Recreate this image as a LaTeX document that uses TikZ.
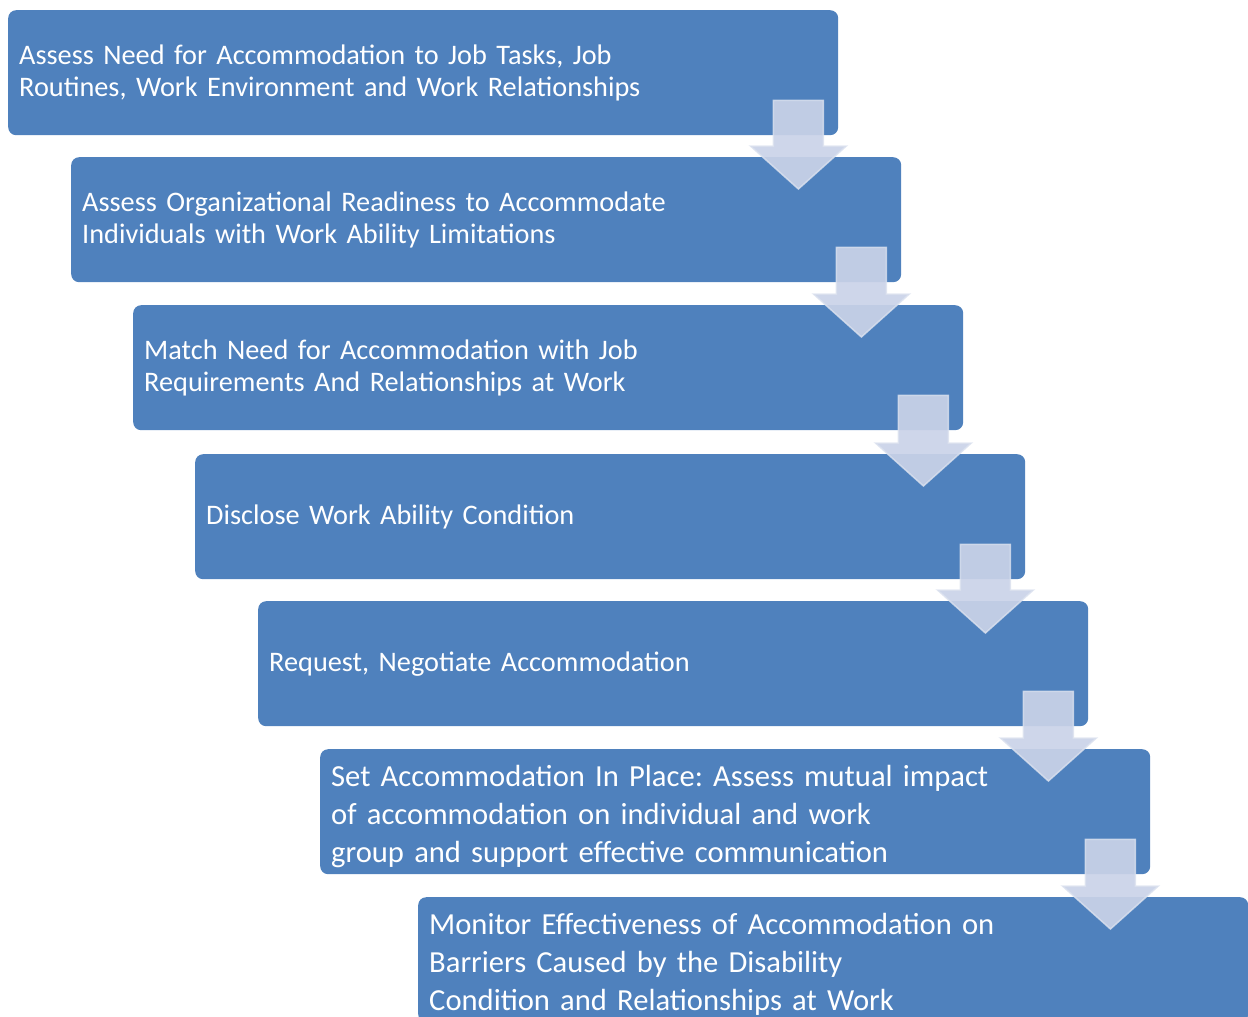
\documentclass[tikz,border=0pt]{standalone}
\usepackage{fontspec}
\setmainfont{Carlito}
\frenchspacing
\usetikzlibrary{calc}
\definecolor{boxblue}{HTML}{4F81BD}
\definecolor{arrowfill}{HTML}{CAD3E8}
\definecolor{arrowedge}{HTML}{DCE2EF}
\tikzset{
  stepbox/.style={fill=boxblue, rounded corners=8pt, anchor=north west,
    minimum width=830pt, minimum height=125pt, inner xsep=11pt, inner ysep=0pt,
    text width=808pt, align=left, text=white},
  smalltext/.style={font=\fontsize{28.3}{32}\selectfont},
  bigtext/.style={font=\fontsize{30.6}{38}\selectfont},
  flowarrow/.style={fill=arrowfill, fill opacity=0.92, draw=arrowedge, draw opacity=0.8, line width=1.5pt, line join=miter}
}
\newcommand\toplift{\rule{0pt}{31pt}}
\begin{document}
\begin{tikzpicture}[x=1pt,y=-1pt]
\useasboundingbox (0,0) rectangle (1248,1017);
\begin{scope}
\clip (0,0) rectangle (1248,1017);
\node[stepbox, smalltext] (b1) at (8,10) {Assess Need for Accommodation to Job Tasks, Job\\Routines, Work Environment and Work Relationships};
\node[stepbox, smalltext] (b2) at (71,157) {Assess Organizational Readiness to Accommodate\\Individuals with Work Ability Limitations};
\node[stepbox, smalltext] (b3) at (133,305) {Match Need for Accommodation with Job\\Requirements And Relationships at Work};
\node[stepbox, smalltext] (b4) at (195,454) {Disclose Work Ability Condition};
\node[stepbox, smalltext] (b5) at (258,601) {Request, Negotiate Accommodation};
\node[stepbox, bigtext] (b6) at (320,749) {\toplift Set Accommodation In Place: Assess mutual impact\\of accommodation on individual and work\\group and support effective communication};
\node[stepbox, bigtext] (b7) at (418,897) {\toplift Monitor Effectiveness of Accommodation on\\Barriers Caused by the Disability\\Condition and Relationships at Work};
\foreach \a/\b in {b1/b2,b2/b3,b3/b4,b4/b5,b5/b6,b6/b7}{
  \draw[flowarrow] let \p1=(\a.south east), \p2=(\b.north) in
    (\x1-65pt,\y1+35pt) -- (\x1-15pt,\y1+35pt) -- (\x1-15pt,\y2+11pt)
    -- (\x1+8pt,\y2+11pt) -- (\x1-40pt,\y2-32pt) -- (\x1-88pt,\y2+11pt)
    -- (\x1-65pt,\y2+11pt) -- cycle;
}
\end{scope}
\end{tikzpicture}
\end{document}
